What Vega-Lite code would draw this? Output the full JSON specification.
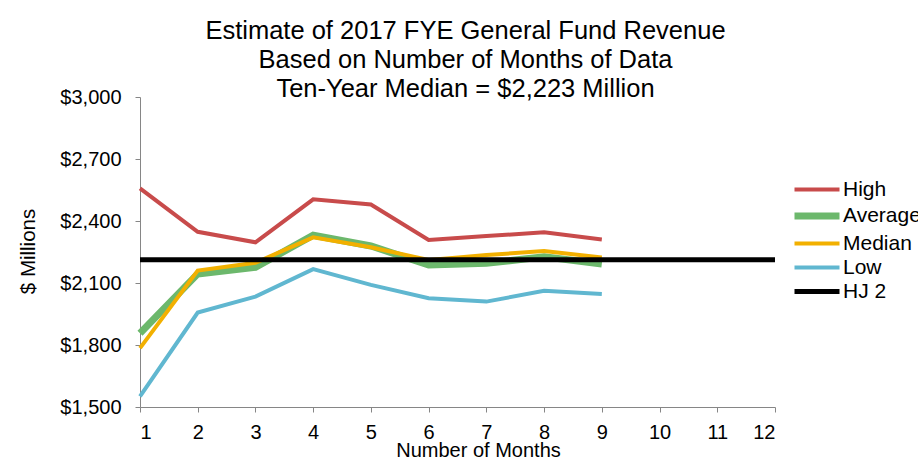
{
  "$schema": "https://vega.github.io/schema/vega-lite/v6.json",
  "autosize": {"type": "none"},
  "padding": {"left": 140, "top": 97, "right": 143, "bottom": 55},
  "width": 635,
  "height": 310,
  "background": "white",
  "config": {
    "font": "Liberation Sans",
    "view": {"stroke": null},
    "axis": {"grid": false, "domainColor": "#868686", "tickColor": "#868686", "labelColor": "black", "titleColor": "black", "titleFontWeight": "normal", "tickSize": 5, "labelFont": "Liberation Sans", "titleFont": "Liberation Sans"}
  },
  "title": {
    "text": ["Estimate of 2017 FYE General Fund Revenue", "Based on Number of Months of Data", "Ten-Year Median = $2,223 Million"],
    "fontSize": 25.5,
    "fontWeight": "normal",
    "font": "Liberation Sans",
    "color": "black",
    "anchor": "middle",
    "dx": 8,
    "lineHeight": 29,
    "offset": -15
  },
  "data": {
    "values": [
      {"month": 1, "value": 2558, "series": "High"},
      {"month": 2, "value": 2348, "series": "High"},
      {"month": 3, "value": 2297, "series": "High"},
      {"month": 4, "value": 2505, "series": "High"},
      {"month": 5, "value": 2480, "series": "High"},
      {"month": 6, "value": 2308, "series": "High"},
      {"month": 7, "value": 2327, "series": "High"},
      {"month": 8, "value": 2345, "series": "High"},
      {"month": 9, "value": 2311, "series": "High"},
      {"month": 1, "value": 1857, "series": "Average"},
      {"month": 2, "value": 2144, "series": "Average"},
      {"month": 3, "value": 2176, "series": "Average"},
      {"month": 4, "value": 2331, "series": "Average"},
      {"month": 5, "value": 2279, "series": "Average"},
      {"month": 6, "value": 2187, "series": "Average"},
      {"month": 7, "value": 2195, "series": "Average"},
      {"month": 8, "value": 2227, "series": "Average"},
      {"month": 9, "value": 2192, "series": "Average"},
      {"month": 1, "value": 1785, "series": "Median"},
      {"month": 2, "value": 2160, "series": "Median"},
      {"month": 3, "value": 2198, "series": "Median"},
      {"month": 4, "value": 2321, "series": "Median"},
      {"month": 5, "value": 2273, "series": "Median"},
      {"month": 6, "value": 2211, "series": "Median"},
      {"month": 7, "value": 2235, "series": "Median"},
      {"month": 8, "value": 2255, "series": "Median"},
      {"month": 9, "value": 2223, "series": "Median"},
      {"month": 1, "value": 1551, "series": "Low"},
      {"month": 2, "value": 1957, "series": "Low"},
      {"month": 3, "value": 2034, "series": "Low"},
      {"month": 4, "value": 2167, "series": "Low"},
      {"month": 5, "value": 2091, "series": "Low"},
      {"month": 6, "value": 2026, "series": "Low"},
      {"month": 7, "value": 2010, "series": "Low"},
      {"month": 8, "value": 2062, "series": "Low"},
      {"month": 9, "value": 2047, "series": "Low"},
      {"month": 1, "value": 2212, "series": "HJ 2"},
      {"month": 12, "value": 2212, "series": "HJ 2"}
    ]
  },
  "mark": {"type": "line", "strokeCap": "butt", "strokeJoin": "miter"},
  "encoding": {
    "x": {
      "field": "month", "type": "quantitative",
      "scale": {"domain": [1, 12], "nice": false, "zero": false},
      "axis": {"values": [1,2,3,4,5,6,7,8,9,10,11,12], "format": "d", "labelFontSize": 20, "labelPadding": 10, "title": "Number of Months", "titleFontSize": 20, "titleX": 338, "titleY": 49, "titleBaseline": "alphabetic", "titleAnchor": "middle"}
    },
    "y": {
      "field": "value", "type": "quantitative",
      "scale": {"domain": [1500, 3000], "nice": false, "zero": false},
      "axis": {"values": [1500,1800,2100,2400,2700,3000], "format": "$,.0f", "labelFontSize": 20, "labelPadding": 14, "title": "$ Millions", "titleFontSize": 20.5, "titleX": -112, "titleY": 154, "titleBaseline": "middle", "titleAnchor": "middle"}
    },
    "color": {
      "field": "series", "type": "nominal",
      "scale": {"domain": ["High", "Average", "Median", "Low", "HJ 2"], "range": ["#c84b4b", "#6cb86c", "#f2b000", "#60b7d0", "#000000"]},
      "legend": {"title": null, "orient": "none", "legendX": 666, "legendY": 82, "labelFontSize": 21, "labelColor": "black", "symbolType": "M-3,0H3", "symbolSize": 225, "rowPadding": 2, "labelOffset": 15, "padding": 0}
    },
    "strokeWidth": {
      "field": "series", "type": "nominal",
      "scale": {"type": "ordinal", "domain": ["High", "Average", "Median", "Low", "HJ 2"], "range": [4, 7, 4, 4, 5]},
      "legend": {"title": null, "orient": "none", "legendX": 666, "legendY": 82, "labelFontSize": 21, "labelColor": "black", "symbolType": "M-3,0H3", "symbolSize": 225, "rowPadding": 2, "labelOffset": 15, "padding": 0}
    }
  }
}
